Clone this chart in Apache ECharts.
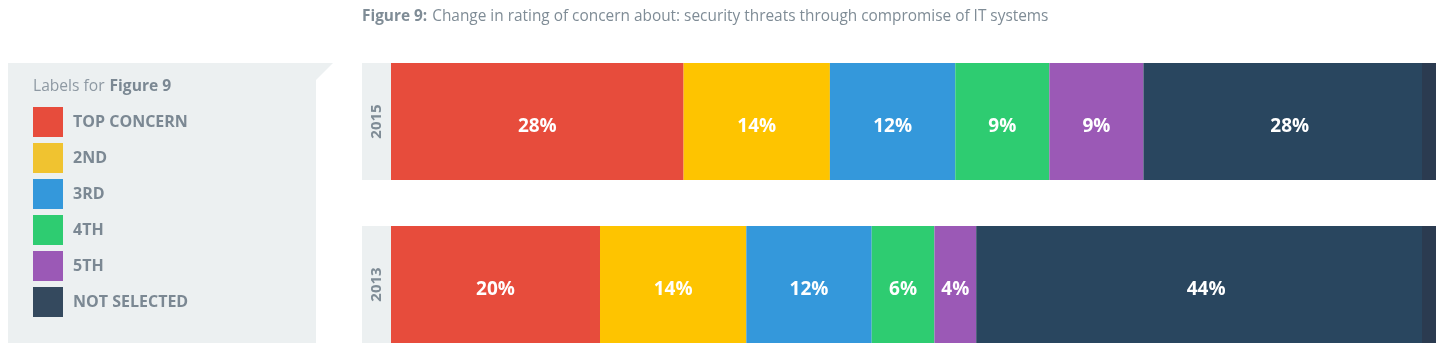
<!DOCTYPE html>
<html><head><meta charset="utf-8">
<script src="https://cdn.jsdelivr.net/npm/echarts@6/dist/echarts.min.js"></script>
<style>html,body{margin:0;padding:0;background:#fff}#c{width:1448px;height:362px}</style>
</head><body><div id="c"></div>
<script>
const years = ['2015', '2013'];
const seriesNames = ['TOP CONCERN', '2ND', '3RD', '4TH', '5TH', 'NOT SELECTED'];
const topConcern = [28, 20];
const second = [14, 14];
const third = [12, 12];
const fourth = [9, 6];
const fifth = [9, 4];
const notSelected = [28, 44];
const barColors = ['#e74c3c', '#fec400', '#3498db', '#2ecc71', '#9b59b6', '#29465f'];
const legendColors = ['#e74c3c', '#f0c330', '#3498db', '#2ecc71', '#9b59b6', '#34495e'];
const stripColor = '#2b3b50';
const stripShare = 1.34; // width of the darker end strip, in axis percent units

const FONT = '"Open Sans"';
const allValues = [topConcern, second, third, fourth, fifth, notSelected];

const series = seriesNames.map((name, i) => ({
  name: name,
  type: 'bar',
  stack: 'total',
  barWidth: 117,
  clip: false,
  itemStyle: { color: barColors[i] },
  label: {
    show: true, position: 'inside', formatter: '{c}%', offset: [0, 5],
    color: '#fff', fontWeight: 'bold', fontSize: 19, fontFamily: FONT
  },
  data: allValues[i].map(v => {
    if (i !== 5) return v;
    const s = 1 - stripShare / v;
    return {
      value: v,
      itemStyle: {
        color: {
          type: 'linear', x: 0, y: 0, x2: 1, y2: 0,
          colorStops: [
            { offset: 0, color: barColors[5] },
            { offset: s, color: barColors[5] },
            { offset: s, color: stripColor },
            { offset: 1, color: stripColor }
          ]
        }
      }
    };
  })
}));

const chart = echarts.init(document.getElementById('c'), null, { renderer: 'canvas' });
chart.setOption({
  animation: false,
  backgroundColor: '#ffffff',
  title: [{
    text: '{b|Figure 9:} {n|Change in rating of concern about: security threats through compromise of IT systems}',
    left: 362, top: 8, padding: 0,
    textStyle: {
      rich: {
        b: { fontFamily: FONT, fontWeight: 'bold', fontSize: 15.4, color: '#7f8c96' },
        n: { fontFamily: FONT, fontWeight: 'normal', fontSize: 15.4, color: '#7f8c96' }
      }
    }
  }, {
    text: '{n|Labels for} {b|Figure 9}',
    left: 33, top: 78, padding: 0,
    textStyle: {
      rich: {
        b: { fontFamily: FONT, fontWeight: 'bold', fontSize: 15.6, color: '#7b8893' },
        n: { fontFamily: FONT, fontWeight: 'normal', fontSize: 15.6, color: '#8e99a3' }
      }
    }
  }],
  graphic: [{
    type: 'polygon', z: -10, silent: true,
    shape: { points: [[8, 63], [333, 63], [316, 80], [316, 343], [8, 343]] },
    style: { fill: '#ecf0f1' }
  }],
  legend: {
    orient: 'vertical', left: 33, top: 107, padding: 0,
    itemWidth: 30, itemHeight: 30, itemGap: 6,
    icon: 'rect',
    selectedMode: false,
    textStyle: {
      color: '#7b8893', fontWeight: 'bold', fontSize: 16, fontFamily: FONT,
      padding: [0, 0, 0, 5]
    },
    data: seriesNames.map((n, i) => ({ name: n, itemStyle: { color: legendColors[i] } }))
  },
  grid: { left: 391, right: 12, top: 121.5, bottom: 77.5, containLabel: false },
  xAxis: {
    type: 'value', min: 0, max: 100, show: false
  },
  yAxis: {
    type: 'category', data: years, inverse: true, boundaryGap: false,
    axisLine: { show: false }, axisTick: { show: false }, splitLine: { show: false },
    axisLabel: {
      rotate: 90, margin: 0,
      backgroundColor: '#ecf0f1',
      width: 117, height: 29, lineHeight: 29, align: 'center',
      color: '#7f8c96', fontWeight: 'bold', fontSize: 15, fontFamily: FONT
    }
  },
  series: series
});
</script></body></html>
